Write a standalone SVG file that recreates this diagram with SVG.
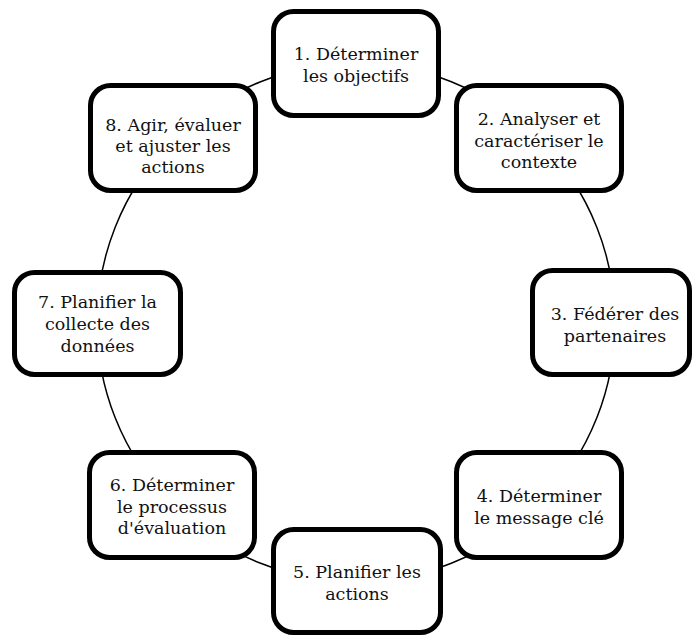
<svg xmlns="http://www.w3.org/2000/svg" width="693" height="636" viewBox="0 0 693 636">
<style>
.box{fill:#fff;stroke:#000;stroke-width:5}
.t{font-family:"DejaVu Serif","Liberation Serif",serif;font-size:17.5px;fill:#111;text-anchor:middle}
.ring{fill:none;stroke:#000;stroke-width:1.5}
</style>
<rect width="693" height="636" fill="#fff"/>
<g id="connectors">
<circle class="ring" cx="356" cy="322.5" r="259"/>
</g>
<g id="n1">
<rect class="box" x="273.5" y="11.5" width="165" height="104" rx="20"/>
<text class="t" x="356" y="60"><tspan x="356">1. Déterminer</tspan><tspan x="356" dy="22">les objectifs</tspan></text>
</g>
<g id="n2">
<rect class="box" x="456.5" y="85.5" width="165" height="105" rx="20"/>
<text class="t" x="539" y="125"><tspan x="539">2. Analyser et</tspan><tspan x="539" dy="21.5">caractériser le</tspan><tspan x="539" dy="21.5">contexte</tspan></text>
</g>
<g id="n3">
<rect class="box" x="532.5" y="270.5" width="157" height="104" rx="20"/>
<text class="t" x="615" y="320"><tspan x="615">3. Fédérer des</tspan><tspan x="615" dy="22">partenaires</tspan></text>
</g>
<g id="n4">
<rect class="box" x="456.5" y="452.5" width="165" height="105" rx="20"/>
<text class="t" x="539" y="502"><tspan x="539">4. Déterminer</tspan><tspan x="539" dy="22">le message clé</tspan></text>
</g>
<g id="n5">
<rect class="box" x="273.5" y="529.5" width="167" height="103" rx="20"/>
<text class="t" x="357" y="578"><tspan x="357">5. Planifier les</tspan><tspan x="357" dy="22">actions</tspan></text>
</g>
<g id="n6">
<rect class="box" x="89.5" y="452.5" width="165" height="105" rx="20"/>
<text class="t" x="172" y="491"><tspan x="172">6. Déterminer</tspan><tspan x="172" dy="21.5">le processus</tspan><tspan x="172" dy="21.5">d'évaluation</tspan></text>
</g>
<g id="n7">
<rect class="box" x="14.5" y="272.5" width="166" height="102" rx="20"/>
<text class="t" x="97.5" y="308"><tspan x="97.5">7. Planifier la</tspan><tspan x="97.5" dy="22">collecte des</tspan><tspan x="97.5" dy="22">données</tspan></text>
</g>
<g id="n8">
<rect class="box" x="90.5" y="85.5" width="165" height="105" rx="20"/>
<text class="t" x="173" y="131"><tspan x="173">8. Agir, évaluer</tspan><tspan x="173" dy="21">et ajuster les</tspan><tspan x="173" dy="21">actions</tspan></text>
</g>
</svg>
